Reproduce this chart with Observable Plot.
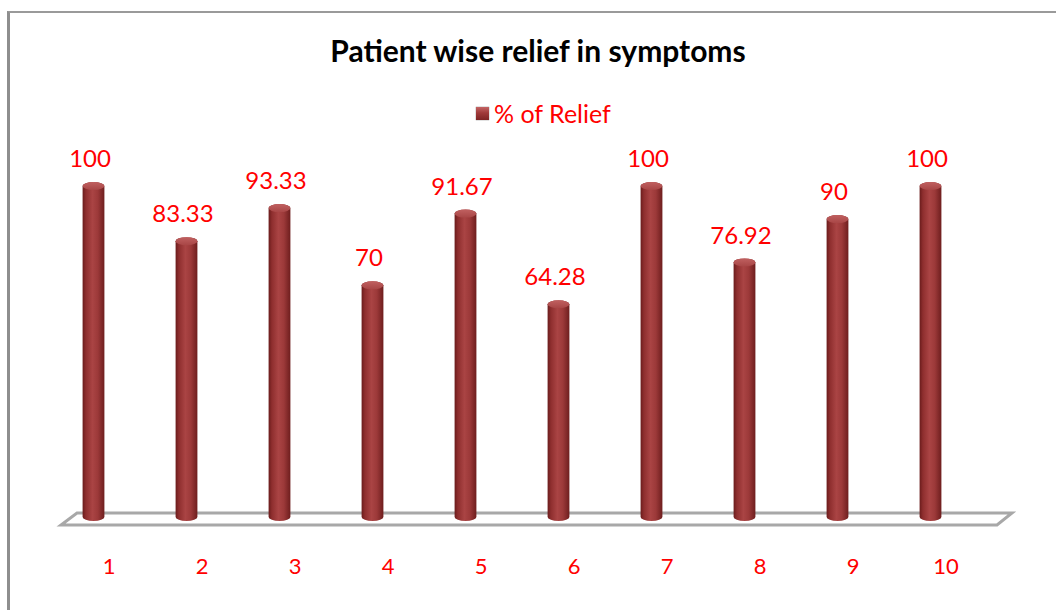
<!DOCTYPE html>
<html><head><meta charset="utf-8">
<script src="https://cdn.jsdelivr.net/npm/d3@7"></script>
<script src="https://cdn.jsdelivr.net/npm/@observablehq/plot@0.6"></script>
<style>
body{margin:0;background:#fff;}
#wrap{position:relative;width:1056px;height:610px;overflow:hidden;font-family:Lato,sans-serif;background:#fff;}
#frame{position:absolute;left:7px;top:11px;width:1100px;height:700px;border-left:3px solid #8e8e8e;border-top:2px solid #9a9a9a;}
#title{position:absolute;top:34px;left:0;width:1076px;text-align:center;font-weight:bold;font-size:30px;color:#000;line-height:32px;}
#legend{position:absolute;top:98px;left:476px;height:30px;display:flex;align-items:center;font-size:25px;color:#ff0000;}
#legend .sw{width:13px;height:13px;margin-right:5px;background:linear-gradient(180deg,#c46464 0%,#a03a3a 45%,#7e2424 100%);box-shadow:0 0 1px #555;}
#chart{position:absolute;left:0;top:130px;}
</style></head>
<body>
<svg width="0" height="0" style="position:absolute">
  <defs>
    <linearGradient id="cyl" x1="0" x2="1" y1="0" y2="0">
      <stop offset="0" stop-color="#6a1c1c"/>
      <stop offset="0.15" stop-color="#8e2e2e"/>
      <stop offset="0.45" stop-color="#aa4444"/>
      <stop offset="0.7" stop-color="#9c3939"/>
      <stop offset="1" stop-color="#6e1e1e"/>
    </linearGradient>
    <linearGradient id="cap" x1="0" x2="0" y1="0" y2="1">
      <stop offset="0" stop-color="#c06060"/>
      <stop offset="1" stop-color="#a84646"/>
    </linearGradient>
  </defs>
</svg>
<div id="wrap">
  <div id="frame"></div>
  <div id="title">Patient wise relief in symptoms</div>
  <div id="legend"><div class="sw"></div><span>% of Relief</span></div>
  <div id="chart"></div>
</div>
<script>
const patients = ["1","2","3","4","5","6","7","8","9","10"];
const relief = [100, 83.33, 93.33, 70, 91.67, 64.28, 100, 76.92, 90, 100];
const reliefLabels = ["100","83.33","93.33","70","91.67","64.28","100","76.92","90","100"];

const data = patients.map((p, i) => ({p, v: relief[i], label: reliefLabels[i]}));

const floor = (index, scales, values, dims) => {
  const y0 = dims.height - dims.marginBottom;
  const L = dims.marginLeft, R = dims.width - dims.marginRight;
  const g = d3.create("svg:g");
  const d = `M${L+31},${y0-4} L${R+34},${y0-4} L${R+19},${y0+8} L${L+15},${y0+8} Z`;
  g.append("path").attr("d", d).attr("fill", "#fff").attr("stroke", "#a8a8a8").attr("stroke-width", 3).attr("stroke-linejoin", "miter");
  return g.node();
};

const chart = Plot.plot({
  width: 1056,
  height: 480,
  marginTop: 56,
  marginBottom: 93,
  marginLeft: 46,
  marginRight: 78,
  style: {fontFamily: "Lato, sans-serif", background: "transparent"},
  x: {type: "band", domain: patients, padding: 0, align: 0.5, label: null},
  y: {domain: [0, 100], axis: null},
  marks: [
    floor,
    Plot.barY(data, {x: "p", y1: 0, y2: "v", insetLeft: 35.6, insetRight: 35.6, insetTop: -4, insetBottom: -4, rx: 11, ry: 4, fill: "url(#cyl)"}),
    Plot.barY(data, {x: "p", y1: "v", y2: "v", insetLeft: 35.6, insetRight: 35.6, insetTop: -4, insetBottom: -4, rx: 11, ry: 4, fill: "url(#cap)"}),
    Plot.text(data, {x: "p", y: "v", text: "label", dy: -27, dx: -4, fill: "#ff0000", fontSize: 24}),
    Plot.axisX({tickSize: 0, tickPadding: 41, dx: 15, fontSize: 22, color: "#ff0000", fill: "#ff0000", label: null})
  ]
});
document.getElementById("chart").appendChild(chart);
</script>
</body></html>
